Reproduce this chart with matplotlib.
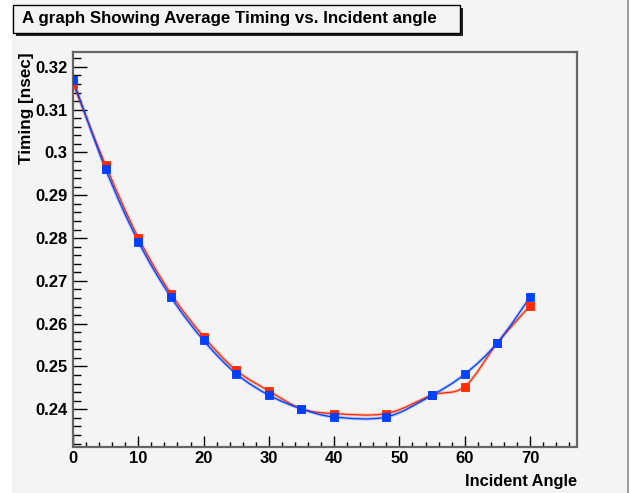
import numpy as np
import matplotlib
matplotlib.use("Agg")
import matplotlib.pyplot as plt
from matplotlib.path import Path
from matplotlib.patches import PathPatch, Rectangle
from matplotlib.lines import Line2D

plt.rcParams['font.family'] = ['Liberation Sans', 'DejaVu Sans']
plt.rcParams['font.weight'] = 'bold'

# incident angle (deg)
angle = [0, 5, 10, 15, 20, 25, 30, 35, 40, 48, 55, 60, 65, 70]
# average timing [nsec]
timing_red = [0.3161, 0.2970, 0.2801, 0.2670, 0.2570, 0.2491, 0.2443, 0.2401,
              0.2390, 0.2390, 0.2433, 0.2453, 0.2555, 0.2642]
timing_blue = [0.3170, 0.2961, 0.2792, 0.2662, 0.2561, 0.2483, 0.2433, 0.2401,
               0.2382, 0.2382, 0.2433, 0.2482, 0.2555, 0.2662]

red = '#ff2a00'
blue = '#0040ff'
bg = '#f4f4f4'

W, H = 639, 493
fig = plt.figure(figsize=(W / 100, H / 100), dpi=100, facecolor='white')

# canvas background and right border
fig.patches.append(Rectangle((12 / W, 0), (628 - 12) / W, 1, transform=fig.transFigure,
                             facecolor=bg, edgecolor='none', zorder=-10))
fig.lines.append(Line2D([628 / W, 628 / W], [0, 1], transform=fig.transFigure,
                        color='#8a8a8a', lw=1.2))

ax = fig.add_axes([73 / W, 1 - 446.5 / H, (577 - 73) / W, (446.5 - 51.5) / H])
ax.set_facecolor(bg)


def smooth_path(xs, ys):
    # catmull-rom through the points, drawn as cubic bezier segments
    pts = np.column_stack([xs, ys]).astype(float)
    verts = [pts[0]]
    codes = [Path.MOVETO]
    n = len(pts)
    for i in range(n - 1):
        p0 = pts[i - 1] if i > 0 else pts[i]
        p1 = pts[i]
        p2 = pts[i + 1]
        p3 = pts[i + 2] if i + 2 < n else pts[i + 1]
        verts += [p1 + (p2 - p0) / 6, p2 - (p3 - p1) / 6, p2]
        codes += [Path.CURVE4] * 3
    return Path(verts, codes)


for ys, col, z in [(timing_red, red, 2), (timing_blue, blue, 3)]:
    pth = smooth_path(angle, ys)
    ax.add_patch(PathPatch(pth, facecolor='none', edgecolor=col, lw=2.4, alpha=0.25, zorder=z))
    ax.add_patch(PathPatch(pth, facecolor='none', edgecolor=col, lw=0.9, zorder=z))
    ax.plot(angle, ys, linestyle='none', marker='s', markersize=6.2, color=col,
            markeredgecolor=col, markeredgewidth=0.6, zorder=z + 2)

ax.set_xlim(0, 77.2)
ax.set_ylim(0.2313, 0.3236)

ax.set_xticks(np.arange(0, 71, 10))
ax.set_xticks(np.arange(0, 77, 2), minor=True)
ax.set_yticks(np.arange(0.24, 0.321, 0.01))
ax.set_yticks(np.arange(0.232, 0.3236, 0.002), minor=True)
ax.set_xticklabels([str(v) for v in range(0, 71, 10)])
ax.set_yticklabels(['0.24', '0.25', '0.26', '0.27', '0.28', '0.29', '0.3', '0.31', '0.32'])

ax.tick_params(axis='x', which='major', direction='in', length=8, width=1, pad=3,
               labelsize=12, color='black')
ax.tick_params(axis='x', which='minor', direction='in', length=3.6, width=1, color='black')
ax.tick_params(axis='y', which='major', direction='in', length=10, width=1, pad=4,
               labelsize=12, color='black')
ax.tick_params(axis='y', which='minor', direction='in', length=5.5, width=1, color='black')
for lab in ax.get_xticklabels() + ax.get_yticklabels():
    lab.set_fontweight('bold')

for s in ax.spines.values():
    s.set_color('#666666')
    s.set_linewidth(1.6)

fig.text(577 / W, 1 - 486 / H, 'Incident Angle', ha='right', va='baseline',
         fontsize=11.8, fontweight='bold')
fig.text(27 / W, 1 - 52 / H, 'Timing [nsec]', ha='center', va='top', rotation=90,
         fontsize=12.3, fontweight='bold')

# title box with shadow
fig.patches.append(Rectangle((16 / W, 1 - 36 / H), (460 - 13) / W, (33 - 5) / H,
                             transform=fig.transFigure, facecolor='#222222',
                             edgecolor='none', zorder=5))
fig.patches.append(Rectangle((13 / W, 1 - 33 / H), (460 - 13) / W, (33 - 5) / H,
                             transform=fig.transFigure, facecolor=bg,
                             edgecolor='black', lw=1, zorder=6))
fig.text(229 / W, 1 - 19 / H, 'A graph Showing Average Timing vs. Incident angle',
         ha='center', va='center', fontsize=12.2, fontweight='bold', zorder=7)

fig.savefig('out.png', dpi=100, facecolor=fig.get_facecolor())
